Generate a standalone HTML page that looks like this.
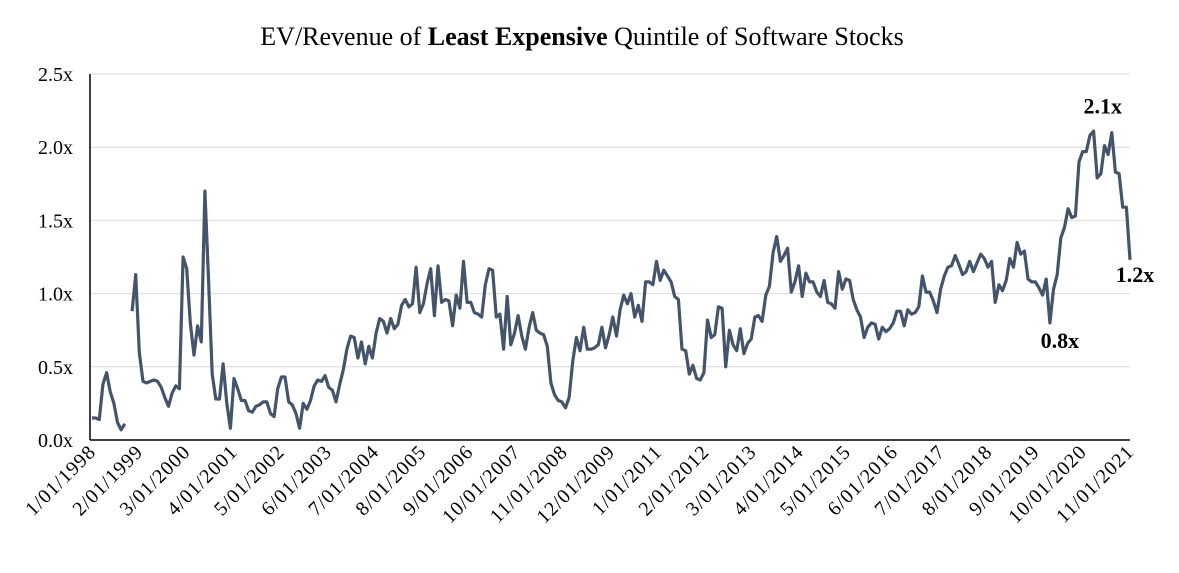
<!DOCTYPE html>
<html><head><meta charset="utf-8"><style>
body{margin:0;background:#fff;}
svg{display:block;font-family:"Liberation Serif",serif;}
</style></head><body>
<svg id="chart" width="1179" height="573">
<text x="582" y="45" text-anchor="middle" font-size="26" fill="#000">EV/Revenue of <tspan font-weight="bold">Least Expensive</tspan> Quintile of Software Stocks</text>
<g id="grid"></g><g id="axes"></g><g id="series"></g><g id="labels"></g>
</svg>
<script>
const values=[0.15,0.15,0.14,0.38,0.46,0.33,0.25,0.12,0.07,0.11,null,0.88,1.13,0.6,0.4,0.39,0.4,0.41,0.4,0.36,0.29,0.23,0.32,0.37,0.35,1.25,1.17,0.8,0.58,0.78,0.67,1.70,1.1,0.45,0.28,0.28,0.52,0.25,0.08,0.42,0.35,0.27,0.27,0.2,0.19,0.23,0.24,0.26,0.26,0.18,0.16,0.35,0.43,0.43,0.26,0.24,0.18,0.08,0.25,0.21,0.27,0.37,0.41,0.40,0.44,0.36,0.34,0.26,0.38,0.48,0.62,0.71,0.70,0.56,0.67,0.52,0.64,0.56,0.73,0.83,0.81,0.73,0.83,0.76,0.79,0.92,0.96,0.91,0.93,1.18,0.87,0.93,1.07,1.17,0.85,1.19,0.94,0.96,0.95,0.78,0.99,0.90,1.22,0.94,0.94,0.87,0.86,0.84,1.06,1.17,1.16,0.84,0.86,0.62,0.98,0.65,0.73,0.85,0.71,0.62,0.77,0.87,0.75,0.73,0.72,0.64,0.39,0.31,0.27,0.26,0.22,0.29,0.54,0.70,0.61,0.77,0.62,0.62,0.63,0.65,0.77,0.63,0.72,0.84,0.71,0.89,0.99,0.93,1.0,0.84,0.92,0.81,1.08,1.08,1.06,1.22,1.09,1.16,1.12,1.08,0.98,0.96,0.62,0.61,0.45,0.51,0.42,0.41,0.46,0.82,0.70,0.72,0.91,0.90,0.50,0.75,0.65,0.61,0.76,0.59,0.66,0.69,0.84,0.85,0.81,0.99,1.05,1.28,1.39,1.22,1.26,1.31,1.01,1.08,1.19,0.98,1.14,1.08,1.08,1.01,0.98,1.09,0.94,0.93,0.90,1.15,1.03,1.10,1.09,0.96,0.89,0.84,0.70,0.77,0.80,0.79,0.69,0.77,0.74,0.76,0.80,0.88,0.88,0.78,0.89,0.86,0.87,0.91,1.12,1.01,1.01,0.95,0.87,1.03,1.12,1.18,1.19,1.26,1.20,1.13,1.15,1.22,1.15,1.21,1.27,1.24,1.18,1.22,0.94,1.06,1.02,1.09,1.24,1.18,1.35,1.27,1.29,1.10,1.08,1.08,1.04,0.99,1.10,0.80,1.03,1.13,1.38,1.45,1.58,1.52,1.53,1.90,1.97,1.97,2.08,2.11,1.79,1.82,2.01,1.95,2.10,1.83,1.82,1.59,1.59,1.23];
const xLabels=["1/01/1998","2/01/1999","3/01/2000","4/01/2001","5/01/2002","6/01/2003","7/01/2004","8/01/2005","9/01/2006","10/01/2007","11/01/2008","12/01/2009","1/01/2011","2/01/2012","3/01/2013","4/01/2014","5/01/2015","6/01/2016","7/01/2017","8/01/2018","9/01/2019","10/01/2020","11/01/2021"];
const yTicks=[0,0.5,1,1.5,2,2.5];
const yTickLabels=["0.0x","0.5x","1.0x","1.5x","2.0x","2.5x"];
const annotations=[{i:280,v:2.1,t:"2.1x",dx:-9,dy:-19},{i:263,v:0.8,t:"0.8x",dx:10,dy:25},{i:285,v:1.23,t:"1.2x",dx:5,dy:22}];
const X0=92,X1=1130,Y0=440,Y1=74,VMAX=2.5;
const ns="http://www.w3.org/2000/svg";
function xs(i){return X0+i*(X1-X0)/(values.length-1);}
function ys(v){return Y0-v*(Y0-Y1)/VMAX;}
function mk(t,a,p){const e=document.createElementNS(ns,t);for(const k in a)e.setAttribute(k,a[k]);p.appendChild(e);return e;}
const grid=document.getElementById('grid'),axes=document.getElementById('axes'),ser=document.getElementById('series'),lab=document.getElementById('labels');
yTicks.forEach((v,k)=>{
 if(v>0){const g=mk('line',{x1:90,x2:X1,y1:ys(v),y2:ys(v),stroke:'#d9d9d9','stroke-width':1},grid);
 
 }
 const t=mk('text',{x:73,y:ys(v)+7,'text-anchor':'end','font-size':20},axes);
 t.textContent=yTickLabels[k];
 
 
});
const ya=mk('line',{x1:90,x2:90,y1:Y1,y2:Y0,stroke:'#000','stroke-width':1.5},axes);


const xa=mk('line',{x1:90,x2:X1,y1:Y0,y2:Y0,stroke:'#000','stroke-width':1.5},axes);


xLabels.forEach((s,k)=>{
 const x=X0+k*(X1-X0)/(xLabels.length-1);
 const t=mk('text',{x:x+5,y:453,'text-anchor':'end','font-size':20,'letter-spacing':1,transform:`rotate(-45 ${x+5} 453)`},axes);
 t.textContent=s;
 
 
});
let d='',pen=false;
values.forEach((v,i)=>{if(v===null){pen=false;return;}d+=(pen?'L':'M')+xs(i).toFixed(1)+' '+ys(v).toFixed(1)+' ';pen=true;});
const p=mk('path',{d:d,fill:'none',stroke:'#44546a','stroke-width':3.2,'stroke-linejoin':'round'},ser);


annotations.forEach(a=>{
 const t=mk('text',{x:xs(a.i)+a.dx,y:ys(a.v)+a.dy,'text-anchor':'middle','font-size':22,'font-weight':'bold'},lab);
 t.textContent=a.t;
 
 
});
</script>
</body></html>
